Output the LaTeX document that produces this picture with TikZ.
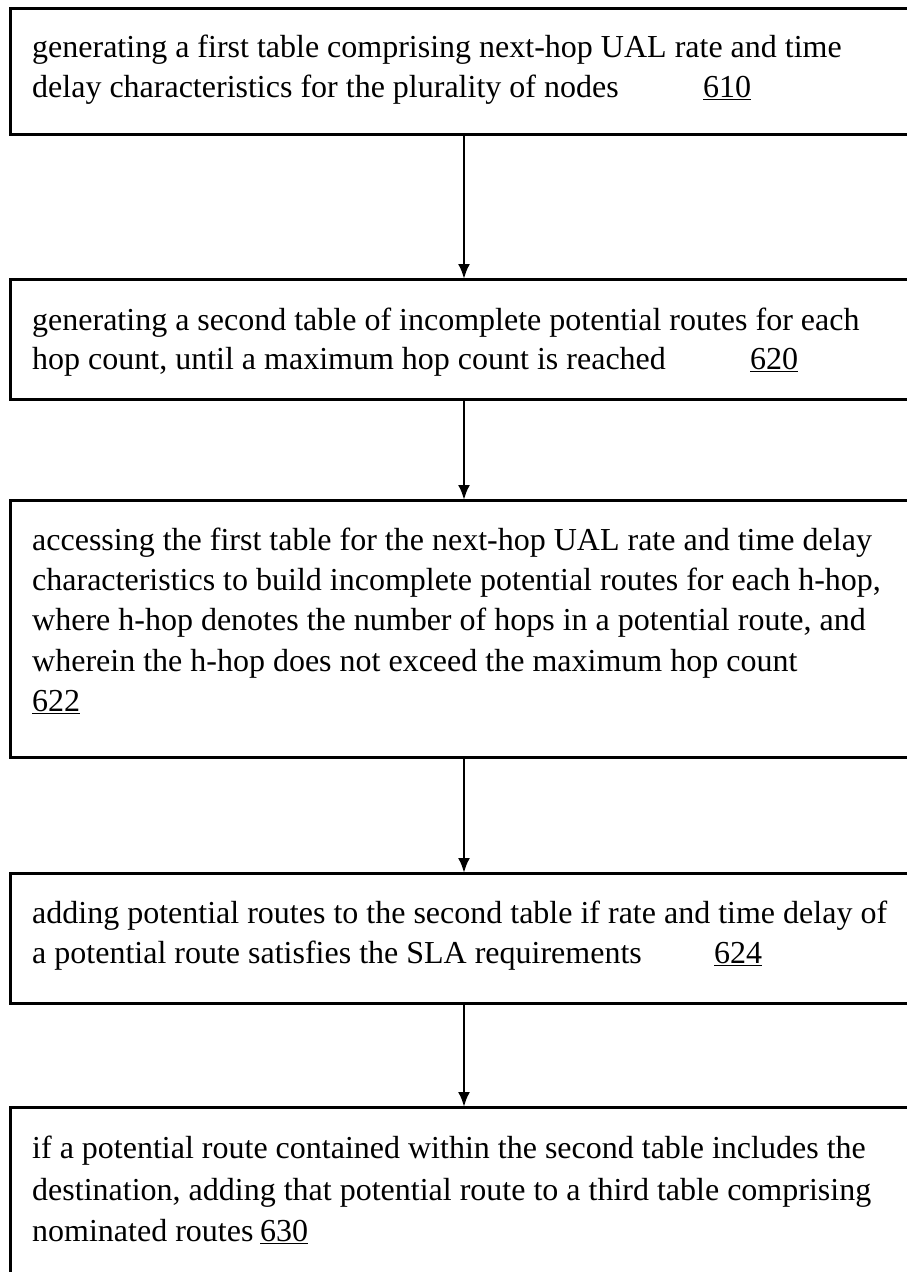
\documentclass[tikz,border=0pt]{standalone}
\usepackage{fontspec}
\setmainfont{Liberation Serif}
\usetikzlibrary{arrows.meta}
\begin{document}
\begin{tikzpicture}[x=1pt,y=-1pt,
  stepbox/.style={draw,line width=3pt,rectangle,anchor=north west,inner sep=0pt,outer sep=0pt},
  txt/.style={anchor=base west,inner sep=0pt,font=\fontsize{32}{40}\selectfont},
  flow/.style={line width=2.6pt,-{Latex[length=15pt,width=12pt]}}]
\useasboundingbox (0,0) rectangle (906,1272);
% process boxes (right side runs past the page edge)
\node[stepbox,minimum width=900pt,minimum height=126pt] (b1) at (10,8) {};
\node[stepbox,minimum width=900pt,minimum height=120pt] (b2) at (10,279) {};
\node[stepbox,minimum width=900pt,minimum height=257pt] (b3) at (10,500) {};
\node[stepbox,minimum width=900pt,minimum height=130pt] (b4) at (10,873) {};
\node[stepbox,minimum width=900pt,minimum height=190pt] (b5) at (10,1107) {};
% step texts
\node[txt] (t1a) at (32,57) {generating a first table comprising next-hop UAL rate and time};
\node[txt] (t1b) at (32,97) {delay characteristics for the plurality of nodes};
\node[txt] (n610) at (703,97) {\underline{610}};
\node[txt] (t2a) at (32,330) {generating a second table of incomplete potential routes for each};
\node[txt] (t2b) at (32,369) {hop count, until a maximum hop count is reached};
\node[txt] (n620) at (750,369) {\underline{620}};
\node[txt] (t3a) at (32,550) {accessing the first table for the next-hop UAL rate and time delay};
\node[txt] (t3b) at (32,590) {characteristics to build incomplete potential routes for each h-hop,};
\node[txt] (t3c) at (32,630) {where h-hop denotes the number of hops in a potential route, and};
\node[txt] (t3d) at (32,671) {wherein the h-hop does not exceed the maximum hop count};
\node[txt] (n622) at (32,711) {\underline{622}};
\node[txt] (t4a) at (32,923) {adding potential routes to the second table if rate and time delay of};
\node[txt] (t4b) at (32,963) {a potential route satisfies the SLA requirements};
\node[txt] (n624) at (714,963) {\underline{624}};
\node[txt] (t5a) at (32,1158) {if a potential route contained within the second table includes the};
\node[txt] (t5b) at (32,1200) {destination, adding that potential route to a third table comprising};
\node[txt] (t5c) at (32,1241) {nominated routes};
\node[txt] (n630) at (260,1241) {\underline{630}};
% connectors
\coordinate (ax) at (464,0);
\draw[flow] (b1.south -| ax) -- (b2.north -| ax);
\draw[flow] (b2.south -| ax) -- (b3.north -| ax);
\draw[flow] (b3.south -| ax) -- (b4.north -| ax);
\draw[flow] (b4.south -| ax) -- (b5.north -| ax);
\end{tikzpicture}
\end{document}
